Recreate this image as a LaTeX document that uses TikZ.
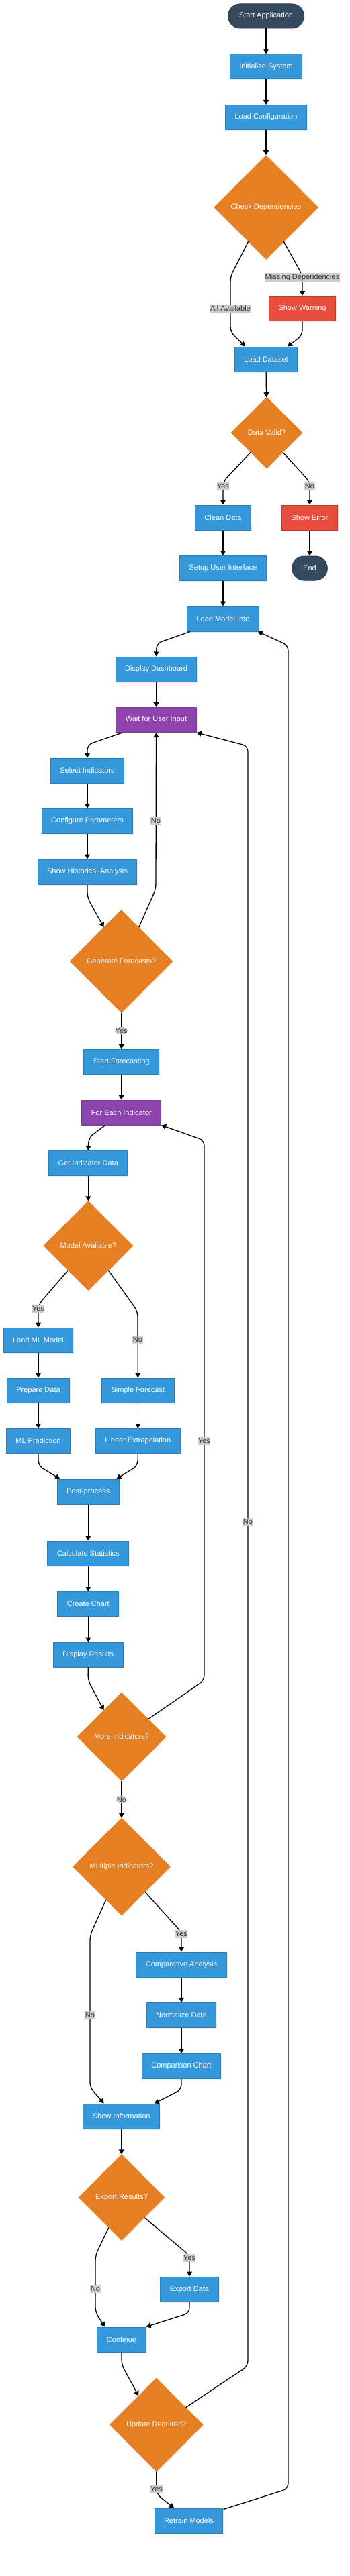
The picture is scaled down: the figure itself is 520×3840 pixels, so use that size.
\documentclass[tikz,border=0pt]{standalone}
\usepackage{fontspec}
\setmainfont{Liberation Sans}
\definecolor{procblue}{HTML}{3498DB}
\definecolor{procedge}{HTML}{2980B9}
\definecolor{warnred}{HTML}{E74C3C}
\definecolor{warnedge}{HTML}{C0392B}
\definecolor{loopviolet}{HTML}{8E44AD}
\definecolor{loopedge}{HTML}{7D3C98}
\definecolor{askorange}{HTML}{E67E22}
\definecolor{termslate}{HTML}{34495E}
\definecolor{termedge}{HTML}{2C3E50}
\definecolor{lblgray}{HTML}{CCCCCC}
\definecolor{lbltext}{HTML}{333333}
\usetikzlibrary{shapes.geometric, arrows.meta, calc, shadows}

\begin{document}
\begin{tikzpicture}[
  x=1pt, y=-1pt,
  base/.style={font=\fontsize{11}{13}\selectfont, text=white, minimum height=37pt, inner xsep=14pt, drop shadow={opacity=0.15, shadow xshift=1.5pt, shadow yshift=-1.5pt}},
  pbox/.style={base, rectangle, draw=procedge, fill=procblue, line width=1pt},
  rbox/.style={base, rectangle, draw=warnedge, fill=warnred, line width=1pt},
  ubox/.style={base, rectangle, draw=loopedge, fill=loopviolet, line width=1pt},
  tbox/.style={base, rectangle, rounded corners=18pt, draw=termedge, fill=termslate, line width=1pt, inner xsep=16.5pt, minimum height=36pt},
  dbox/.style={base, diamond, aspect=1, fill=askorange, draw=askorange, line width=0.5pt, inner sep=0pt, minimum width=#1, minimum height=#1},
  lbl/.style={fill=lblgray, text=lbltext, font=\fontsize{11}{13}\selectfont, inner xsep=0.5pt, inner ysep=2pt},
  arr/.style={draw=black, line width=1.3pt, -{Triangle[width=8pt,length=7pt]}, rounded corners=8pt}
]
  \fill[white] (0,0) rectangle (520,3840);
  \useasboundingbox (0,0) rectangle (520,3840);

  % Startup
  \node[tbox] (start) at (396,24) {Start Application};
  \node[pbox] (init) at (396,99.5) {Initialize System};
  \node[pbox] (cfg) at (396,175) {Load Configuration};
  \node[dbox=155] (chk) at (396,309) {Check Dependencies};
  \node[rbox] (warn) at (450,460) {Show Warning};
  \node[pbox] (ds) at (396,535.5) {Load Dataset};
  \node[dbox=106] (valid) at (397,645) {Data Valid?};
  \node[pbox] (clean) at (332,771.5) {Clean Data};
  \node[rbox] (err) at (461,771.5) {Show Error};
  \node[pbox] (ui) at (332,847) {Setup User Interface};
  \node[tbox] (fin) at (461,847) {End};
  \node[pbox] (lmi) at (332,922.5) {Load Model Info};

  % Dashboard and input
  \node[pbox] (dash) at (232.5,997.5) {Display Dashboard};
  \node[ubox] (wait) at (232.5,1073) {Wait for User Input};
  \node[pbox] (sel) at (130,1148.5) {Select Indicators};
  \node[pbox] (conf) at (130,1224) {Configure Parameters};
  \node[pbox] (hist) at (130,1299.5) {Show Historical Analysis};
  \node[dbox=153] (gen) at (180.7,1433) {Generate Forecasts?};
  \node[pbox] (sf) at (180.7,1582.5) {Start Forecasting};

  % Forecast loop
  \node[ubox] (fei) at (180.7,1658.5) {For Each Indicator};
  \node[pbox] (gid) at (131.3,1734) {Get Indicator Data};
  \node[dbox=133] (mav) at (131.3,1857) {Model Available?};
  \node[pbox] (lml) at (57,1997.5) {Load ML Model};
  \node[pbox] (prep) at (57,2072.5) {Prepare Data};
  \node[pbox] (mlp) at (57,2148) {ML Prediction};
  \node[pbox] (simf) at (205.3,2072.5) {Simple Forecast};
  \node[pbox] (lin) at (205.3,2148) {Linear Extrapolation};
  \node[pbox] (post) at (131.3,2223.5) {Post-process};
  \node[pbox] (stats) at (131.3,2315.5) {Calculate Statistics};
  \node[pbox] (chart) at (131.3,2391) {Create Chart};
  \node[pbox] (disp) at (131.3,2466.5) {Display Results};
  \node[dbox=132] (more) at (181,2589) {More Indicators?};

  % Comparison, export, update
  \node[dbox=145] (multi) at (181,2782.5) {Multiple Indicators?};
  \node[pbox] (comp) at (270,2928.5) {Comparative Analysis};
  \node[pbox] (norm) at (270,3004) {Normalize Data};
  \node[pbox] (cchart) at (270,3080) {Comparison Chart};
  \node[pbox] (info) at (180.7,3154.5) {Show Information};
  \node[dbox=128] (exp) at (181,3275.5) {Export Results?};
  \node[pbox] (expd) at (282,3412.5) {Export Data};
  \node[pbox] (cont) at (181,3487.5) {Continue};
  \node[dbox=139] (upd) at (232.7,3614.5) {Update Required?};
  \node[pbox] (retr) at (281,3757.5) {Retrain Models};

  % Edges
  \draw[arr] (start) -- (init);
  \draw[arr] (init) -- (cfg);
  \draw[arr] (cfg) -- (chk);
  \draw[arr] ($(chk.west)!0.66!(chk.south)$) -- (343,412) -- (343,495) -- ([xshift=-31]ds.north);
  \draw[arr] ($(chk.east)!0.66!(chk.south)$) -- (450,410) -- (warn.north);
  \draw[arr] (warn.south) -- (450,500) -- ([xshift=32]ds.north);
  \draw[arr] (ds) -- (valid);
  \draw[arr] ($(valid.west)!0.55!(valid.south)$) -- (332,718) -- (clean.north);
  \draw[arr] ($(valid.east)!0.55!(valid.south)$) -- (461,718) -- (err.north);
  \draw[arr] (clean) -- (ui);
  \draw[arr] (err) -- (fin);
  \draw[arr] (ui) -- (lmi);
  \draw[arr] ([xshift=-49]lmi.south) -- (233,959) -- (dash.north);
  \draw[arr] (dash) -- (wait);
  \draw[arr] ([xshift=-50]wait.south) -- (130,1110) -- (sel.north);
  \draw[arr] (sel) -- (conf);
  \draw[arr] (conf) -- (hist);
  \draw[arr] (hist.south) -- (130,1338) -- ($(gen.west)!0.66!(gen.north)$);
  \draw[arr] ($(gen.east)!0.66!(gen.north)$) -- (232,1325) -- (wait.south);
  \draw[arr] (gen) -- node[lbl] (lYesGen) {Yes} (sf);
  \draw[arr] (sf) -- (fei);
  \draw[arr] ([xshift=-24]fei.south) -- (132,1696) -- (gid.north);
  \draw[arr] (gid) -- (mav);
  \draw[arr] ($(mav.west)!0.55!(mav.south)$) -- (57,1945) -- (lml.north);
  \draw[arr] ($(mav.east)!0.55!(mav.south)$) -- (205,1955) -- (simf.north);
  \draw[arr] (lml) -- (prep);
  \draw[arr] (prep) -- (mlp);
  \draw[arr] (simf) -- (lin);
  \draw[arr] (mlp.south) -- (57,2185) -- ([xshift=-42]post.north);
  \draw[arr] (lin.south) -- (205,2185) -- ([xshift=42]post.north);
  \draw[arr] (post) -- (stats);
  \draw[arr] (stats) -- (chart);
  \draw[arr] (chart) -- (disp);
  \draw[arr] (disp.south) -- (131,2505) -- ($(more.west)!0.6!(more.north)$);
  \draw[arr] ($(more.east)!0.4!(more.north)$) -- (304,2505) -- (304,1700) -- (fei.south east);
  \draw[arr] (more) -- node[lbl] (lNoMore) {No} (multi);
  \draw[arr] ($(multi.east)!0.52!(multi.south)$) -- (270,2880) -- (comp.north);
  \draw[arr] ($(multi.west)!0.68!(multi.south)$) -- (134,2885) -- (134,3112) -- ([xshift=-26]info.north);
  \draw[arr] (comp) -- (norm);
  \draw[arr] (norm) -- (cchart);
  \draw[arr] (cchart.south) -- (270,3115) -- ([xshift=49]info.north);
  \draw[arr] (info) -- (exp);
  \draw[arr] ($(exp.east)!0.47!(exp.south)$) -- (282,3362) -- (expd.north);
  \draw[arr] ($(exp.west)!0.7!(exp.south)$) -- (142,3362) -- (142,3447) -- ([xshift=-25]cont.north);
  \draw[arr] (expd.south) -- (282,3448) -- (cont.north east);
  \draw[arr] (cont.south) -- (181,3525) -- ($(upd.west)!0.62!(upd.north)$);
  \draw[arr] ($(upd.east)!0.37!(upd.north)$) -- (369,3527) -- (369,1112) -- (wait.south east);
  \draw[arr] (upd.south) -- (233,3718) -- ([xshift=-22]retr.north);
  \draw[arr] ([yshift=-2]retr.north east) -- (429,3710) -- (429,962) -- ([xshift=-2]lmi.south east);

  % Edge labels
  \node[lbl] (lAll) at (343,460) {All Available};
  \node[lbl] (lMiss) at (450,414) {Missing Dependencies};
  \node[lbl] (lYesValid) at (332,725) {Yes};
  \node[lbl] (lNoValid) at (461,725) {No};
  \node[lbl] (lNoGen) at (232,1224) {No};
  \node[lbl] (lYesMav) at (57,1951) {Yes};
  \node[lbl] (lNoMav) at (205,1997) {No};
  \node[lbl] (lYesMore) at (304,2148) {Yes};
  \node[lbl] (lYesMulti) at (270,2883) {Yes};
  \node[lbl] (lNoMulti) at (134,3004) {No};
  \node[lbl] (lYesExp) at (282,3366) {Yes};
  \node[lbl] (lNoExp) at (142,3412) {No};
  \node[lbl] (lNoUpd) at (369,2269) {No};
  \node[lbl] (lYesUpd) at (233,3711) {Yes};
\end{tikzpicture}
\end{document}
